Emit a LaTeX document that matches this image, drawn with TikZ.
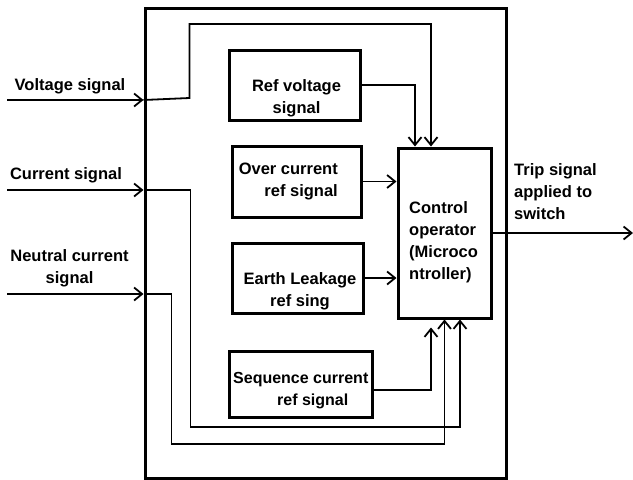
\documentclass[tikz,border=0pt]{standalone}
\usepackage{fontspec}
\setmainfont{Liberation Sans}
\usetikzlibrary{positioning,calc,arrows.meta}

\begin{document}
\begin{tikzpicture}[x=1pt,y=-1pt,
    blk/.style={draw, line width=3pt, inner sep=0pt},
    txt/.style={font=\fontsize{16.5}{22}\selectfont\bfseries, inner sep=0pt},
    wire/.style={line width=1.8pt},
    sig/.style={wire, -{Straight Barb[length=8pt,width=13pt]}}]
    \useasboundingbox (0,0) rectangle (633,480);

    % Outer block
    \node[blk, minimum width=361, minimum height=470] (Sys) at (325.5,243) {};

    % Reference blocks
    \node[blk, minimum width=131, minimum height=70] (RefV) at (294.5,85) {};
    \node[blk, minimum width=129, minimum height=71] (OC) at (296.5,181.5) {};
    \node[blk, minimum width=131, minimum height=70] (EL) at (297.5,278) {};
    \node[blk, minimum width=143, minimum height=66] (SC) at (300.5,384) {};

    % Control operator
    \node[blk, minimum width=93, minimum height=170] (Ctrl) at (444.5,233) {};

    % Block texts (base = last line)
    \node[txt, align=center, anchor=base] (RefVt) at (296.5,113.5) {Ref voltage\\signal};
    \node[txt, align=right, anchor=base east] (OCt) at (338,196.5) {Over current\\ref signal};
    \node[txt, align=center, anchor=base] (ELt) at (300,306.5) {Earth Leakage\\ref sing};
    \node[txt, font=\fontsize{16}{22}\selectfont\bfseries, align=left, anchor=base west] (SCt) at (233,405.5) {Sequence current\\\hspace*{44pt}ref signal};
    \node[txt, align=left, anchor=base west] (Ctrlt) at (409,279) {Control\\operator\\(Microco\\ntroller)};

    % Inputs and output
    \coordinate (vin) at (7,100);
    \coordinate (cin) at (7,190);
    \coordinate (nin) at (7,294);
    \coordinate (tout) at (633,233);
    \node[txt, anchor=base] (vlab) at (70,90) {Voltage signal};
    \node[txt, anchor=base] (clab) at (66,179.5) {Current signal};
    \node[txt, align=center, anchor=base] (nlab) at (69.5,283.5) {Neutral current\\signal};
    \node[txt, align=left, anchor=base west] (tlab) at (514,219) {Trip signal\\applied to\\switch};

    \draw[sig] (vin) -- (vin -| Sys.west);
    \draw[sig] (cin) -- (cin -| Sys.west);
    \draw[sig] (nin) -- (nin -| Sys.west);
    \draw[sig] (Ctrl.east) -- (tout);

    % Signals to the controller
    \draw[sig] (vin -| Sys.west) -- ++(46,-2) -- ++(0,-74) -| ([xshift=-13.5]Ctrl.north);
    \draw[sig] (RefV.east) -| ([xshift=-29.5]Ctrl.north);
    \draw[sig] (OC.east) -- (OC.east -| Ctrl.west);
    \draw[sig] (EL.east) -- (EL.east -| Ctrl.west);
    \draw[sig] ([yshift=-6]SC.east) -| ([xshift=-13.5,yshift=-8]Ctrl.south);
    \draw[sig] (cin -| Sys.west) -- ++(47,0) -- ++(0,237) -| ([xshift=15.5]Ctrl.south);
    \draw[sig] (nin -| Sys.west) -- ++(28,0) -- ++(0,150) -| (Ctrl.south);
\end{tikzpicture}
\end{document}
